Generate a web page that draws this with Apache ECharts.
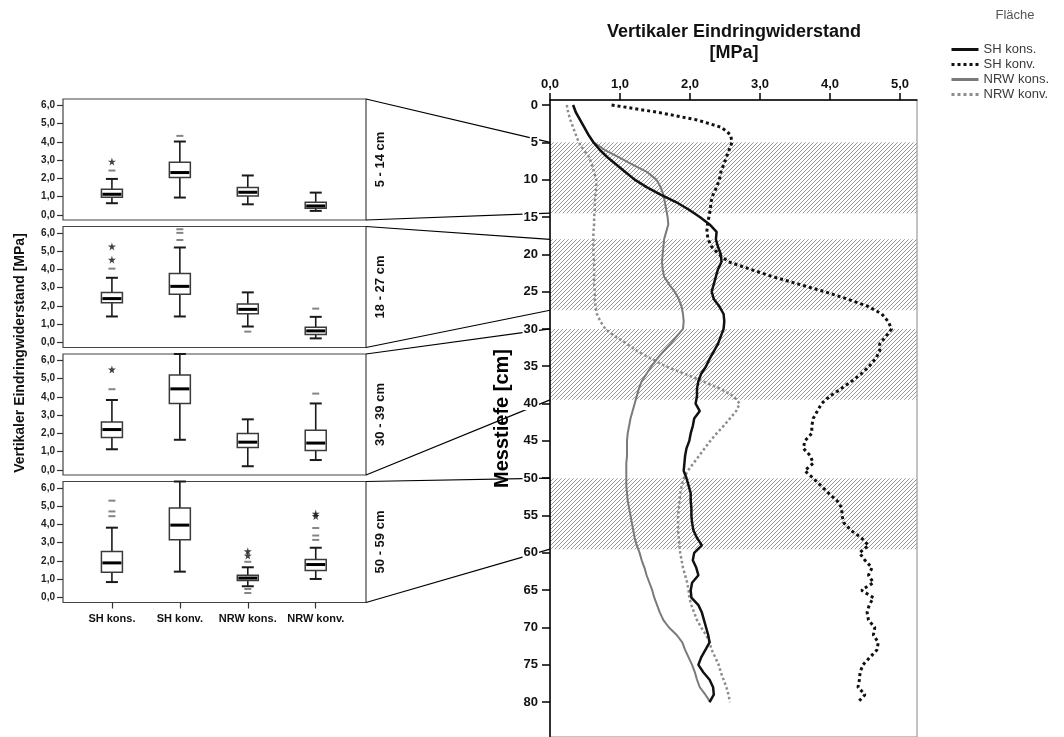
<!DOCTYPE html>
<html>
<head>
<meta charset="utf-8">
<script src="https://cdn.jsdelivr.net/npm/echarts@6/dist/echarts.min.js"></script>
<style>
html,body{margin:0;padding:0;background:#fff}
#main{width:1064px;height:737px}
</style>
</head>
<body>
<div id="main"></div>
<script>
// ---- data ----
const categories = ['SH kons.', 'SH konv.', 'NRW kons.', 'NRW konv.'];
const layerLabels = ['5 - 14 cm', '18 - 27 cm', '30 - 39 cm', '50 - 59 cm'];
const layerFrom = [5, 18, 30, 50];
const layerTo = [14.5, 27.5, 39.5, 59.5];

// box summaries per category: [lower whisker, Q1, median, Q3, upper whisker]
const box5to14 = [[0.64, 0.97, 1.13, 1.41, 1.97], [0.95, 2.05, 2.32, 2.89, 4.02], [0.58, 1.04, 1.24, 1.50, 2.16], [0.22, 0.37, 0.49, 0.69, 1.22]];
const box18to27 = [[1.42, 2.17, 2.40, 2.74, 3.54], [1.42, 2.64, 3.07, 3.78, 5.20], [0.87, 1.57, 1.81, 2.11, 2.74], [0.22, 0.43, 0.63, 0.83, 1.40]];
const box30to39 = [[1.13, 1.77, 2.21, 2.62, 3.83], [1.65, 3.64, 4.44, 5.20, 6.35], [0.20, 1.23, 1.52, 2.00, 2.77], [0.54, 1.06, 1.47, 2.17, 3.64]];
const box50to59 = [[0.84, 1.38, 1.89, 2.51, 3.82], [1.41, 3.16, 3.96, 4.90, 6.35], [0.61, 0.92, 1.06, 1.21, 1.65], [1.01, 1.47, 1.80, 2.07, 2.72]];

// outliers [category index, value]
const out5to14 = [[0, 2.43], [1, 4.33]];
const ext5to14 = [[0, 2.92]];
const out18to27 = [[0, 4.04], [1, 5.61], [1, 6.00], [1, 6.20], [2, 0.59], [3, 1.85]];
const ext18to27 = [[0, 4.53], [0, 5.26]];
const out30to39 = [[0, 4.42], [3, 4.18]];
const ext30to39 = [[0, 5.50]];
const out50to59 = [[0, 5.30], [0, 4.71], [0, 4.45], [2, 1.95], [2, 0.46], [2, 0.24], [3, 3.80], [3, 3.39], [3, 3.15]];
const ext50to59 = [[2, 2.53], [2, 2.29], [3, 4.59], [3, 4.46]];

// penetration resistance profiles [MPa] by depth [cm]
const depth = [0,1,2,3,4,5,6,7,8,9,10,11,12,13,14,15,16,17,18,19,20,21,22,23,24,25,26,27,28,29,30,31,32,33,34,35,36,37,38,39,40,41,42,43,44,45,46,47,48,49,50,51,52,53,54,55,56,57,58,59,60,61,62,63,64,65,66,67,68,69,70,71,72,73,74,75,76,77,78,79,80];
const shKons = [0.33,0.37,0.43,0.49,0.55,0.62,0.71,0.82,0.95,1.08,1.21,1.38,1.58,1.80,1.98,2.14,2.28,2.38,2.37,2.40,2.44,2.45,2.40,2.37,2.34,2.31,2.34,2.42,2.48,2.49,2.48,2.44,2.40,2.34,2.28,2.23,2.16,2.12,2.10,2.10,2.08,2.14,2.06,2.04,2.01,1.99,1.95,1.93,1.92,1.91,1.95,1.98,2.01,2.01,2.02,2.02,2.03,2.05,2.10,2.17,2.06,2.04,2.09,2.12,2.03,2.01,2.02,2.12,2.17,2.20,2.23,2.26,2.28,2.22,2.16,2.12,2.19,2.28,2.33,2.34,2.28];
const shKonv = [0.88,1.55,2.10,2.45,2.58,2.60,2.56,2.52,2.48,2.44,2.42,2.38,2.33,2.30,2.29,2.27,2.25,2.24,2.26,2.31,2.41,2.55,2.86,3.18,3.55,3.92,4.25,4.55,4.74,4.83,4.88,4.80,4.71,4.71,4.65,4.56,4.45,4.31,4.16,4.00,3.88,3.82,3.76,3.74,3.74,3.64,3.62,3.72,3.76,3.64,3.76,3.87,3.98,4.10,4.17,4.17,4.20,4.30,4.45,4.55,4.42,4.50,4.60,4.55,4.62,4.45,4.62,4.56,4.53,4.55,4.64,4.62,4.69,4.67,4.57,4.47,4.43,4.42,4.40,4.50,4.40];
const nrwKons = [0.33,0.37,0.43,0.49,0.55,0.62,0.78,0.98,1.18,1.39,1.52,1.58,1.62,1.64,1.66,1.68,1.69,1.66,1.63,1.62,1.61,1.60,1.61,1.63,1.70,1.78,1.84,1.88,1.90,1.91,1.90,1.81,1.72,1.62,1.53,1.45,1.38,1.31,1.27,1.24,1.21,1.18,1.15,1.13,1.11,1.10,1.10,1.10,1.09,1.09,1.09,1.09,1.10,1.11,1.13,1.15,1.17,1.19,1.21,1.24,1.28,1.31,1.35,1.38,1.42,1.46,1.49,1.53,1.57,1.62,1.70,1.81,1.89,1.93,1.98,2.03,2.07,2.10,2.14,2.22,2.29];
const nrwKonv = [0.24,0.26,0.29,0.33,0.37,0.41,0.48,0.56,0.60,0.63,0.66,0.66,0.65,0.64,0.64,0.63,0.63,0.62,0.62,0.62,0.62,0.63,0.63,0.63,0.63,0.64,0.64,0.65,0.67,0.72,0.79,0.93,1.10,1.25,1.45,1.65,1.92,2.18,2.43,2.62,2.71,2.66,2.57,2.48,2.38,2.29,2.21,2.13,2.05,1.97,1.91,1.88,1.86,1.85,1.84,1.83,1.83,1.83,1.84,1.85,1.86,1.88,1.90,1.93,1.96,1.98,1.99,2.02,2.06,2.10,2.16,2.23,2.28,2.31,2.36,2.41,2.44,2.48,2.52,2.55,2.57];

const boxTicks = [0, 1, 2, 3, 4, 5, 6];
const mpaTicks = [0, 1, 2, 3, 4, 5];
const depthTicks = [0, 5, 10, 15, 20, 25, 30, 35, 40, 45, 50, 55, 60, 65, 70, 75, 80];

// ---- layout ----
const FONT = '"Liberation Sans", Arial, sans-serif';
const panelTop = [99, 226.5, 354, 481.5];
const panelH = 121;
const panelLeft = 63, panelW = 303;
const boxes = [box5to14, box18to27, box30to39, box50to59];
const mild = [out5to14, out18to27, out30to39, out50to59];
const extreme = [ext5to14, ext18to27, ext30to39, ext50to59];
const comma = v => v.toFixed(1).replace('.', ',');

// diagonal hatch used for the sampled layers
function hatch() {
  const c = document.createElement('canvas');
  c.width = 4; c.height = 4;
  const g = c.getContext('2d');
  g.strokeStyle = '#9a9a9a';
  g.lineWidth = 1;
  g.beginPath();
  g.moveTo(0, 4); g.lineTo(4, 0);
  g.moveTo(-1, 1); g.lineTo(1, -1);
  g.moveTo(3, 5); g.lineTo(5, 3);
  g.stroke();
  return c;
}

function renderBox(params, api) {
  const c = api.value(0);
  const lo = api.coord([c, api.value(1)]);
  const q1 = api.coord([c, api.value(2)]);
  const md = api.coord([c, api.value(3)]);
  const q3 = api.coord([c, api.value(4)]);
  const hi = api.coord([c, api.value(5)]);
  const x = lo[0], bw = 21, cw = 12;
  const wl = { stroke: '#1a1a1a', lineWidth: 1.6 };
  return {
    type: 'group',
    children: [
      { type: 'line', shape: { x1: x, y1: hi[1], x2: x, y2: q3[1] }, style: wl },
      { type: 'line', shape: { x1: x, y1: q1[1], x2: x, y2: lo[1] }, style: wl },
      { type: 'line', shape: { x1: x - cw / 2, y1: hi[1], x2: x + cw / 2, y2: hi[1] }, style: { stroke: '#1a1a1a', lineWidth: 2 } },
      { type: 'line', shape: { x1: x - cw / 2, y1: lo[1], x2: x + cw / 2, y2: lo[1] }, style: { stroke: '#1a1a1a', lineWidth: 2 } },
      { type: 'rect', shape: { x: x - bw / 2, y: q3[1], width: bw, height: q1[1] - q3[1] }, style: { fill: '#fff', stroke: '#3a3a3a', lineWidth: 1.5 } },
      { type: 'line', shape: { x1: x - bw / 2 + 1, y1: md[1], x2: x + bw / 2 - 1, y2: md[1] }, style: { stroke: '#000', lineWidth: 3 } }
    ]
  };
}

const grids = [], xAxes = [], yAxes = [], series = [];
for (let i = 0; i < 4; i++) {
  grids.push({ left: panelLeft, top: panelTop[i], width: panelW, height: panelH, show: true, borderColor: '#444', borderWidth: 1.2 });
  xAxes.push({
    type: 'value', gridIndex: i, min: -0.72, max: 3.74, splitLine: { show: false },
    axisLine: { show: false, onZero: false },
    axisTick: { show: i === 3, customValues: [0, 1, 2, 3], length: 6, lineStyle: { color: '#333', width: 1.2 } },
    axisLabel: { show: i === 3, customValues: [0, 1, 2, 3], formatter: v => categories[v], fontWeight: 'bold', fontSize: 11, color: '#111', margin: 11, fontFamily: FONT }
  });
  yAxes.push({
    type: 'value', gridIndex: i, min: -0.28, max: 6.35, splitLine: { show: false },
    axisLine: { show: false, onZero: false },
    axisTick: { show: true, customValues: boxTicks, length: 6, lineStyle: { color: '#333', width: 1.2 } },
    axisLabel: { customValues: boxTicks, formatter: comma, fontWeight: 'bold', fontSize: 10, color: '#222', margin: 8, fontFamily: FONT }
  });
  series.push({
    type: 'custom', xAxisIndex: i, yAxisIndex: i, renderItem: renderBox, z: 3,
    encode: { x: 0, y: [1, 2, 3, 4, 5] },
    data: boxes[i].map((b, k) => [k].concat(b))
  });
  series.push({
    type: 'scatter', xAxisIndex: i, yAxisIndex: i, symbol: 'rect', symbolSize: [7, 2], z: 4,
    itemStyle: { color: '#666' }, data: mild[i]
  });
  series.push({
    type: 'scatter', xAxisIndex: i, yAxisIndex: i, z: 4,
    symbol: 'path://M50,0 L61,35 L98,35 L68,57 L79,91 L50,70 L21,91 L32,57 L2,35 L39,35 Z',
    symbolSize: 8, itemStyle: { color: '#111' }, data: extreme[i]
  });
}

// depth profile panel
grids.push({ left: 550, top: 100, width: 367, height: 640, show: true, borderColor: '#888', borderWidth: 1 });
xAxes.push({
  type: 'value', gridIndex: 4, position: 'top', min: 0, max: 5.243, splitLine: { show: false },
  axisLine: { show: true, onZero: false, lineStyle: { color: '#000', width: 1.5 } },
  axisTick: { customValues: mpaTicks, length: 7, lineStyle: { color: '#000', width: 1.5 } },
  axisLabel: { customValues: mpaTicks, formatter: comma, fontWeight: 'bold', fontSize: 13, color: '#111', margin: 9, fontFamily: FONT }
});
yAxes.push({
  type: 'value', gridIndex: 4, inverse: true, min: -0.6667, max: 84.6667, splitLine: { show: false }, z: 5,
  axisLine: { show: true, onZero: false, lineStyle: { color: '#000', width: 1.5 } },
  axisTick: { customValues: depthTicks, length: 8, lineStyle: { color: '#000', width: 1.5 } },
  axisLabel: { customValues: depthTicks, fontWeight: 'bold', fontSize: 13, color: '#111', margin: 11, fontFamily: FONT, backgroundColor: '#fff', padding: [0, 1] },
  name: 'Messtiefe [cm]', nameLocation: 'middle', nameGap: 38,
  nameTextStyle: { fontSize: 20, fontWeight: 'bold', color: '#000', fontFamily: FONT }
});

series.push({
  type: 'line', xAxisIndex: 4, yAxisIndex: 4, data: [], z: 1, silent: true,
  markArea: {
    silent: true,
    itemStyle: { color: { image: hatch(), repeat: 'repeat' }, borderWidth: 0 },
    data: layerFrom.map((f, i) => [{ yAxis: f }, { yAxis: layerTo[i] }])
  }
});
const profile = (name, vals, color, width, type, z) => ({
  name, type: 'line', xAxisIndex: 4, yAxisIndex: 4, symbol: 'none', z,
  lineStyle: { color, width, type }, itemStyle: { color },
  data: vals.map((v, i) => [v, depth[i]])
});
series.push(profile('SH konv.', shKonv, '#111', 3, 'dotted', 3));
series.push(profile('NRW konv.', nrwKonv, '#8c8c8c', 2.5, 'dotted', 3));
series.push(profile('NRW kons.', nrwKons, '#7a7a7a', 2, 'solid', 4));
series.push(profile('SH kons.', shKons, '#111', 2.5, 'solid', 5));

const chart = echarts.init(document.getElementById('main'), null, { renderer: 'canvas' });
chart.setOption({
  animation: false,
  backgroundColor: '#fff',
  textStyle: { fontFamily: FONT },
  grid: grids, xAxis: xAxes, yAxis: yAxes, series,
  legend: {
    data: ['SH kons.', 'SH konv.', 'NRW kons.', 'NRW konv.'],
    orient: 'vertical', left: 945, top: 38, itemWidth: 27, itemHeight: 8, itemGap: 2,
    itemStyle: { opacity: 0 },
    lineStyle: { width: 3 },
    textStyle: { fontSize: 13, color: '#3a3a3a', fontFamily: FONT }, selectedMode: false
  }
});

// connector lines from each box panel to its layer, plus titles
const yAt = d => chart.convertToPixel({ yAxisIndex: 4 }, d);
const frameRight = panelLeft + panelW;
const graphics = [];
for (let i = 0; i < 4; i++) {
  graphics.push({ type: 'line', z: 1, shape: { x1: frameRight, y1: panelTop[i], x2: 550, y2: yAt(layerFrom[i]) }, style: { stroke: '#000', lineWidth: 1.2 } });
  graphics.push({ type: 'line', z: 1, shape: { x1: frameRight, y1: panelTop[i] + panelH, x2: 550, y2: yAt(layerTo[i]) }, style: { stroke: '#000', lineWidth: 1.2 } });
  graphics.push({ type: 'text', x: 380, y: panelTop[i] + panelH / 2, rotation: Math.PI / 2, z: 6,
    style: { text: layerLabels[i], font: 'bold 13px ' + FONT, fill: '#111', align: 'center', verticalAlign: 'middle' } });
}
graphics.push({ type: 'text', x: 20, y: 353, rotation: Math.PI / 2, z: 6,
  style: { text: 'Vertikaler Eindringwiderstand [MPa]', font: 'bold 14px ' + FONT, fill: '#111', align: 'center', verticalAlign: 'middle' } });
graphics.push({ type: 'text', x: 734, y: 22, z: 6,
  style: { text: 'Vertikaler Eindringwiderstand\n[MPa]', font: 'bold 18px ' + FONT, fill: '#111', align: 'center', verticalAlign: 'top', lineHeight: 21 } });
graphics.push({ type: 'text', x: 1015, y: 9, z: 6,
  style: { text: 'Fläche', font: '13px ' + FONT, fill: '#555', align: 'center', verticalAlign: 'top' } });
chart.setOption({ graphic: graphics });
</script>
</body>
</html>
